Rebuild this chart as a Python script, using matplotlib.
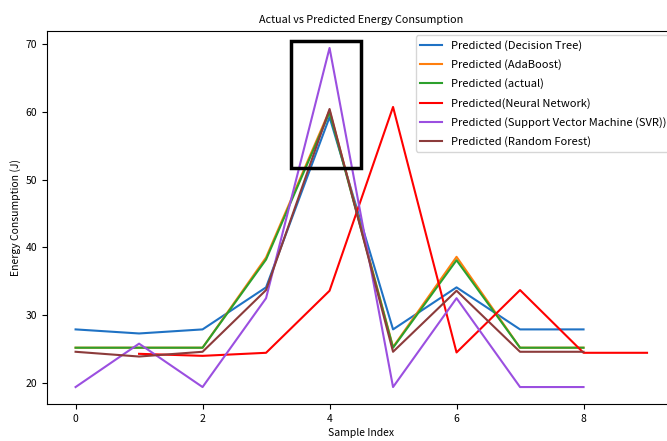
import matplotlib
matplotlib.use("Agg")
import matplotlib.pyplot as plt
from matplotlib.patches import Rectangle

plt.rcParams['font.family'] = ['Noto Sans CJK JP', 'DejaVu Sans']

idx = [0, 1, 2, 3, 4, 5, 6, 7, 8]
idx_nn = [1, 2, 3, 4, 5, 6, 7, 8, 9]

decision_tree = [27.9, 27.3, 27.9, 34.1, 59.2, 27.9, 34.1, 27.9, 27.9]
adaboost = [25.2, 25.2, 25.2, 38.5, 60.2, 25.3, 38.6, 25.2, 25.2]
actual = [25.2, 25.2, 25.2, 38.2, 59.9, 25.2, 38.1, 25.2, 25.2]
neural_net = [24.3, 24.0, 24.45, 33.6, 60.7, 24.5, 33.7, 24.45, 24.45]
svr = [19.4, 25.8, 19.4, 32.5, 69.4, 19.4, 32.5, 19.4, 19.4]
random_forest = [24.6, 23.9, 24.6, 33.7, 60.4, 24.6, 33.6, 24.6, 24.6]

labels = ["Predicted (Decision Tree)", "Predicted (AdaBoost)", "Predicted (actual)",
          "Predicted(Neural Network)", "Predicted (Support Vector Machine (SVR))",
          "Predicted (Random Forest)"]

fig = plt.figure(figsize=(6.67, 4.41), dpi=100)
ax = fig.add_axes([47/667, 1-404/441, 628.6/667, 373/441])

ax.plot(idx, decision_tree, color='#1f72c4', label=labels[0])
ax.plot(idx, adaboost, color='#ff7f0e', label=labels[1])
ax.plot(idx, actual, color='#2ca02c', label=labels[2])
ax.plot(idx_nn, neural_net, color='red', label=labels[3])
ax.plot(idx, svr, color='#9b4fe0', label=labels[4])
ax.plot(idx, random_forest, color='#8c3b3b', label=labels[5])

rect = Rectangle((3.4, 51.75), 1.1, 18.65, fill=False, edgecolor='black',
                 linewidth=2.5, zorder=5, transform=ax.transData)
ax.add_artist(rect)

ax.set_xticks([0, 2, 4, 6, 8])
ax.set_yticks([20, 30, 40, 50, 60, 70])
ax.tick_params(labelsize=7.5)
ax.set_title("Actual vs Predicted Energy Consumption", fontsize=7.8)
ax.set_xlabel("Sample Index", fontsize=7.5, labelpad=3)
ax.set_ylabel("Energy Consumption (J)", fontsize=7.5, labelpad=3)
ax.legend(loc='upper right', fontsize=8.0, labelspacing=0.75, borderaxespad=0.4)

fig.savefig("out.png", dpi=100)
